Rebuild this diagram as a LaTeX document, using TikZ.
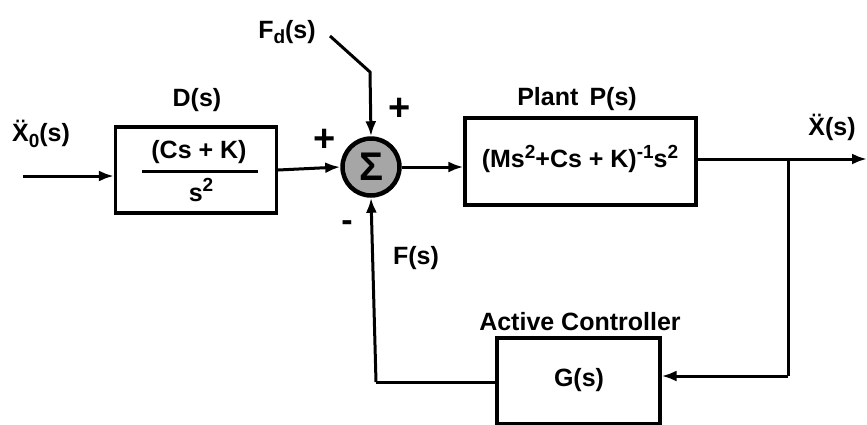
\documentclass[tikz,border=0pt]{standalone}
\usepackage{fontspec}
\setmainfont{Liberation Sans}
\usetikzlibrary{arrows.meta}
\newcommand{\sbx}[1]{\raisebox{-0.4ex}{\fontsize{19}{19}\selectfont #1}}
\newcommand{\spx}[1]{\raisebox{0.7ex}{\fontsize{19}{19}\selectfont #1}}
\begin{document}
\begin{tikzpicture}[x=1pt,y=-1pt,
  lbl/.style={font=\fontsize{25}{28}\selectfont\bfseries, inner sep=0pt},
  blk/.style={draw, line width=3.2pt, rectangle, inner sep=0pt},
  wire/.style={line width=3pt},
  arr/.style={line width=3pt, -{Latex[length=15pt,width=11pt]}}]
\useasboundingbox (0,0) rectangle (867,424);
% blocks
\node[blk, minimum width=161pt, minimum height=86pt] (D) at (196,170) {};
\node[blk, minimum width=231pt, minimum height=87pt] (P) at (580.5,161.5) {};
\node[blk, minimum width=163pt, minimum height=86pt] (G) at (578.5,381) {};
\node[circle, draw, line width=4.5pt, fill=black!35, minimum size=57pt, inner sep=0pt] (S) at (371,167)
  {\fontsize{40}{40}\selectfont\bfseries Σ};
% block contents
\node[lbl] (Dnum) at (199,152) {(Cs + K)};
\draw[line width=3pt] (142,171) -- (258,171);
\node[lbl] (Dden) at (201,190) {s\spx{2}};
\node[lbl] (Ptxt) at (580,159) {(Ms\spx{2}+Cs + K)\spx{-1}s\spx{2}};
\node[lbl] (Gtxt) at (579,380) {G(s)};
% labels
\node[lbl] (Dl) at (197,100) {D(s)};
\node[lbl] (Pl) at (577,99) {Plant\, P(s)};
\node[lbl] (Gl) at (580,322) {Active Controller};
\node[lbl] (Fl) at (416,258) {F(s)};
\node[lbl] (Fdl) at (287,32) {F\sbx{d}(s)};
\node[lbl] (X0l) at (41,134) {\"X\sbx{0}(s)};
\node[lbl] (Xl) at (832,127) {\"X(s)};
\node[lbl, font=\fontsize{38}{38}\selectfont\bfseries] (p1) at (325,140) {+};
\node[lbl, font=\fontsize{38}{38}\selectfont\bfseries] (p2) at (400,109) {+};
\node[lbl, font=\fontsize{34}{34}\selectfont\bfseries] (m1) at (347,226) {-};
% coordinates
\coordinate (in) at (23,176);
\coordinate (fdstart) at (330,36);
\coordinate (fdbend) at (370,72);
\coordinate (out) at (867,159);
\coordinate (br) at (788,159);
\coordinate (brd) at (788,376);
\coordinate (fb) at (376,382);
% connectors
\draw[arr] (in) -- (D.west |- in);
\draw[arr] (D.east |- 0,170) -- (S.west);
\draw[arr] (fdstart) -- (fdbend) -- (S.north);
\draw[arr] (S.east) -- (P.west |- S.east);
\draw[arr] (P.east |- out) -- (out);
\draw[wire] (br) -- (brd);
\draw[arr] (brd) -- (G.east |- brd);
\draw[wire] (G.west |- fb) -- (fb);
\draw[arr] (fb) -- (S.south);
\end{tikzpicture}
\end{document}
